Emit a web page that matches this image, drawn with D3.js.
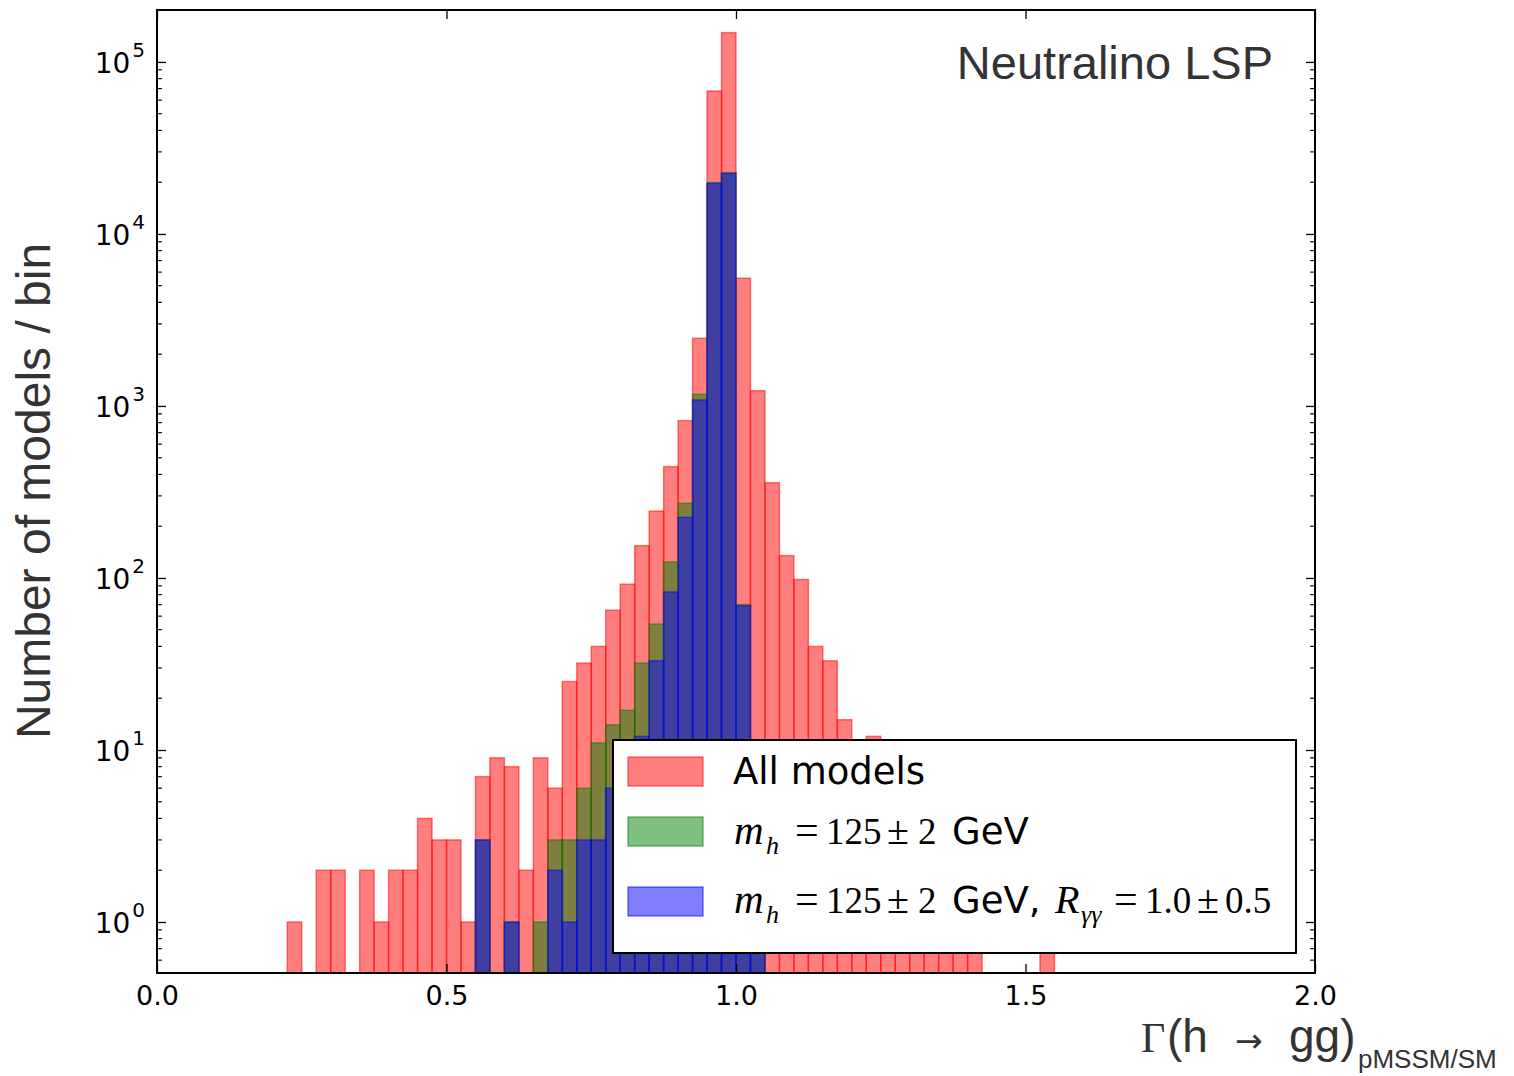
<!DOCTYPE html>
<html>
<head>
<meta charset="utf-8">
<script src="https://cdn.jsdelivr.net/npm/d3@7"></script>
<style>
  html, body { margin: 0; padding: 0; background: #fff; }
  svg { display: block; }
</style>
</head>
<body>
<svg id="chart" width="1514" height="1076"></svg>
<script>
// ---------- DATA ----------
const binWidth = 0.025;
const binLefts = [0.225,0.250,0.275,0.300,0.325,0.350,0.375,0.400,0.425,0.450,0.475,0.500,0.525,0.550,0.575,0.600,0.625,0.650,0.675,0.700,0.725,0.750,0.775,0.800,0.825,0.850,0.875,0.900,0.925,0.950,0.975,1.000,1.025,1.050,1.075,1.100,1.125,1.150,1.175,1.200,1.225,1.250,1.275,1.300,1.325,1.350,1.375,1.400,1.425,1.450,1.475,1.500,1.525];
const allModels = [1,0,2,2,0,2,1,2,2,4,3,3,1,7,9,8,2,9,6,25,32,40,65,92,154,245,444,822,2474,67800,148000,5530,1227,358,135,98,40,33,15,9,12,7,5,4,3,2,2,1,0,0,0,0,1];
const mh125 = [0,0,0,0,0,0,0,0,0,0,0,0,0,3,0,1,0,1,3,3,6,11,14,17,32,54,124,272,1170,19900,22700,70,6,0,0,0,0,0,0,0,0,0,0,0,0,0,0,0,0,0,0,0,0];
const mh125Rgg = [0,0,0,0,0,0,0,0,0,0,0,0,0,3,0,1,0,0,2,1,3,3,6,8,12,33,83,225,1084,19700,22500,69,5,0,0,0,0,0,0,0,0,0,0,0,0,0,0,0,0,0,0,0,0];
const xTicks = [0.0, 0.5, 1.0, 1.5, 2.0];
const yTickExps = [0, 1, 2, 3, 4, 5];
const seriesNames = ["All models", "mh", "mhR"];
const seriesColors = ["#ff0000", "#008000", "#0000ff"];

// ---------- LAYOUT ----------
const svg = d3.select("#chart");
const L = 157, R = 1315, T = 10, B = 973;
const x = d3.scaleLinear().domain([0, 2]).range([L, R]);
const y = d3.scaleLog().domain([Math.pow(10, -0.2965), Math.pow(10, 5.302)]).range([B, T]);

svg.append("defs").append("clipPath").attr("id", "plotclip")
  .append("rect").attr("x", L).attr("y", T).attr("width", R - L).attr("height", B - T);

// ---------- BARS ----------
const series = [allModels, mh125, mh125Rgg];
const barsG = svg.append("g").attr("clip-path", "url(#plotclip)");
series.forEach((vals, si) => {
  const data = binLefts.map((b, i) => ({ b, v: vals[i] })).filter(d => d.v > 0);
  barsG.append("g").selectAll("rect").data(data).join("rect")
    .attr("x", d => x(d.b))
    .attr("width", d => x(d.b + binWidth) - x(d.b))
    .attr("y", d => y(d.v))
    .attr("height", d => B + 5 - y(d.v))
    .attr("fill", seriesColors[si]).attr("fill-opacity", 0.5)
    .attr("stroke", seriesColors[si]).attr("stroke-opacity", 0.5)
    .attr("stroke-width", 1.5);
});

// ---------- AXES ----------
const majorLen = 9, minorLen = 5;
const axG = svg.append("g");
const majorY = yTickExps.map(e => Math.pow(10, e));
const minorY = [];
for (let e = -1; e <= 5; e++) for (let k = 2; k <= 9; k++) {
  const v = k * Math.pow(10, e);
  if (v > y.domain()[0] && v < y.domain()[1]) minorY.push(v);
}
// left axis
const leftAxis = d3.axisLeft(y).tickValues(majorY).tickSizeInner(-majorLen).tickSizeOuter(0).tickPadding(12).tickFormat(() => "");
const lg = axG.append("g").attr("transform", `translate(${L},0)`).call(leftAxis);
lg.select(".domain").remove();
lg.selectAll(".tick line").attr("stroke", "#000").attr("stroke-width", 1.3);
lg.selectAll(".tick text").each(function(d) {
  const t = d3.select(this);
  t.text(null).attr("font-family", "DejaVu Sans").attr("font-size", 28).attr("fill", "#000").attr("dy", "0.38em");
  t.append("tspan").text("10");
  t.append("tspan").attr("font-size", 20).attr("dx", 2).attr("dy", "-0.8em").text(String(Math.round(Math.log10(d))));
});
// right axis
const rightAxis = d3.axisRight(y).tickValues(majorY).tickSizeInner(-majorLen).tickSizeOuter(0).tickFormat(() => "");
const rg = axG.append("g").attr("transform", `translate(${R},0)`).call(rightAxis);
rg.select(".domain").remove();
rg.selectAll(".tick line").attr("stroke", "#000").attr("stroke-width", 1.3);
// minor ticks
[L, R].forEach(px => {
  const dir = px === L ? 1 : -1;
  axG.append("g").selectAll("line").data(minorY).join("line")
    .attr("x1", px).attr("x2", px + dir * minorLen)
    .attr("y1", d => y(d)).attr("y2", d => y(d))
    .attr("stroke", "#000").attr("stroke-width", 1.1);
});
// bottom axis
const bottomAxis = d3.axisBottom(x).tickValues(xTicks).tickSizeInner(-majorLen).tickSizeOuter(0).tickPadding(13).tickFormat(d3.format(".1f"));
const bg = axG.append("g").attr("transform", `translate(0,${B})`).call(bottomAxis);
bg.select(".domain").remove();
bg.selectAll(".tick line").attr("stroke", "#000").attr("stroke-width", 1.3);
bg.selectAll(".tick text").attr("font-family", "DejaVu Sans").attr("font-size", 27).attr("fill", "#000");
// top axis
const topAxis = d3.axisTop(x).tickValues(xTicks).tickSizeInner(-majorLen).tickSizeOuter(0).tickFormat(() => "");
const tg = axG.append("g").attr("transform", `translate(0,${T})`).call(topAxis);
tg.select(".domain").remove();
tg.selectAll(".tick line").attr("stroke", "#000").attr("stroke-width", 1.3);

// frame
svg.append("rect").attr("x", L).attr("y", T).attr("width", R - L).attr("height", B - T)
  .attr("fill", "none").attr("stroke", "#000").attr("stroke-width", 2);

// ---------- LEGEND ----------
const leg = svg.append("g");
leg.append("rect").attr("x", 613).attr("y", 740).attr("width", 683).attr("height", 213)
  .attr("fill", "#fff").attr("stroke", "#000").attr("stroke-width", 2);
const patchY = [757, 817, 887];
seriesColors.forEach((c, i) => {
  leg.append("rect").attr("x", 628).attr("y", patchY[i]).attr("width", 75).attr("height", 29)
    .attr("fill", c).attr("fill-opacity", 0.5).attr("stroke", c).attr("stroke-opacity", 0.5).attr("stroke-width", 1.5);
});
const sans = "DejaVu Sans", serif = "Liberation Serif";
leg.append("text").attr("x", 733).attr("y", 784).attr("font-family", sans).attr("font-size", 37).attr("fill", "#000").text(seriesNames[0]);

function massLine(yb, withR) {
  const t = leg.append("text").attr("y", yb).attr("fill", "#000");
  t.append("tspan").attr("x", 734).attr("font-family", serif).attr("font-style", "italic").attr("font-size", 41).text("m");
  t.append("tspan").attr("x", 766).attr("y", yb + 10).attr("font-family", serif).attr("font-style", "italic").attr("font-size", 26).text("h");
  t.append("tspan").attr("x", 795).attr("y", yb).attr("font-family", serif).attr("font-size", 42).text("=");
  t.append("tspan").attr("x", 826).attr("font-family", serif).attr("font-size", 37).text("125");
  t.append("tspan").attr("x", 887).attr("font-family", serif).attr("font-size", 40).text("±");
  t.append("tspan").attr("x", 918).attr("font-family", serif).attr("font-size", 37).text("2");
  t.append("tspan").attr("x", 952).attr("font-family", sans).attr("font-size", 37).text(withR ? "GeV," : "GeV");
  if (withR) {
    t.append("tspan").attr("x", 1055).attr("font-family", serif).attr("font-style", "italic").attr("font-size", 40).text("R");
    t.append("tspan").attr("x", 1081).attr("y", yb + 10).attr("font-family", serif).attr("font-style", "italic").attr("font-size", 26).text("γγ");
    t.append("tspan").attr("x", 1114).attr("y", yb).attr("font-family", serif).attr("font-size", 42).text("=");
    t.append("tspan").attr("x", 1145).attr("font-family", serif).attr("font-size", 37).text("1.0");
    t.append("tspan").attr("x", 1197).attr("font-family", serif).attr("font-size", 40).text("±");
    t.append("tspan").attr("x", 1225).attr("font-family", serif).attr("font-size", 37).text("0.5");
  }
}
massLine(844, false);
massLine(913, true);

// ---------- TITLES ----------
svg.append("text").attr("x", 1273).attr("y", 79).attr("text-anchor", "end")
  .attr("font-family", "Liberation Sans").attr("font-size", 47).attr("fill", "#333").text("Neutralino LSP");

svg.append("text").attr("transform", "translate(50,491) rotate(-90)").attr("text-anchor", "middle")
  .attr("font-family", "Liberation Sans").attr("font-size", 48).attr("fill", "#333").text("Number of models / bin");

const xl = svg.append("text").attr("y", 1052).attr("fill", "#333");
xl.append("tspan").attr("x", 1141).attr("font-family", serif).attr("font-size", 42).text("Γ");
xl.append("tspan").attr("x", 1167).attr("font-family", "Liberation Sans").attr("font-size", 46).text("(h");
xl.append("tspan").attr("x", 1235).attr("font-family", "DejaVu Sans").attr("font-size", 33).text("→");
xl.append("tspan").attr("x", 1289).attr("font-family", "Liberation Sans").attr("font-size", 46).text("gg)");
xl.append("tspan").attr("x", 1358).attr("y", 1068).attr("font-family", "Liberation Sans").attr("font-size", 26).text("pMSSM/SM");
</script>
</body>
</html>
